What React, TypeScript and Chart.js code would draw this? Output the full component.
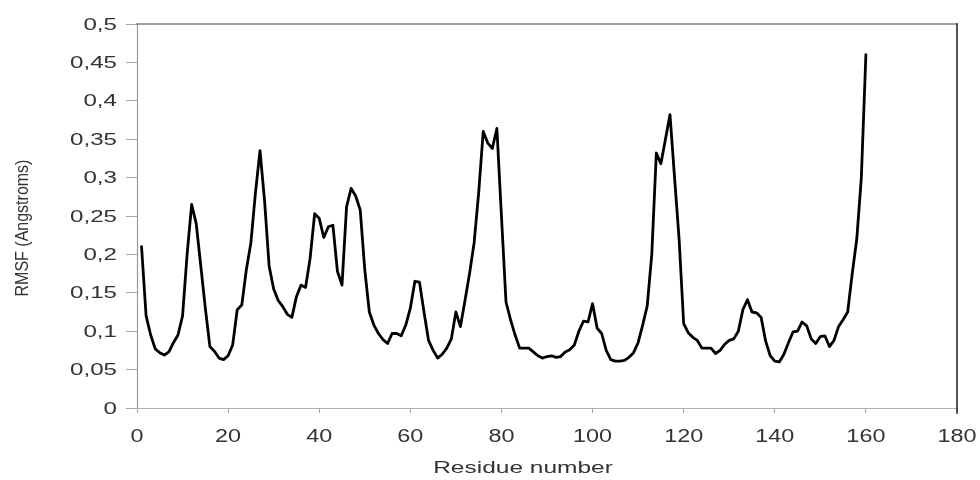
import React, { useEffect, useRef } from "react";
import { Chart, registerables } from "chart.js";

Chart.register(...registerables);

// RMSF per residue (residues 1..160)
const rmsf: number[] = [
  0.21, 0.12, 0.095, 0.077, 0.072, 0.069, 0.073, 0.085, 0.095, 0.12,
  0.2, 0.265, 0.24, 0.185, 0.13, 0.08, 0.074, 0.065, 0.063, 0.068,
  0.082, 0.128, 0.134, 0.18, 0.215, 0.28, 0.335, 0.27, 0.185, 0.155,
  0.14, 0.132, 0.122, 0.118, 0.145, 0.16, 0.157, 0.195, 0.253, 0.247,
  0.222, 0.236, 0.238, 0.178, 0.16, 0.262, 0.286, 0.276, 0.258, 0.18,
  0.125, 0.108, 0.097, 0.089, 0.084, 0.097, 0.097, 0.094, 0.108, 0.13,
  0.165, 0.164, 0.125, 0.088, 0.075, 0.065, 0.07, 0.078, 0.09, 0.125,
  0.106, 0.14, 0.175, 0.215, 0.28, 0.36, 0.345, 0.338, 0.364, 0.25,
  0.138, 0.115, 0.095, 0.078, 0.078, 0.078, 0.073, 0.068, 0.065, 0.067,
  0.068, 0.066, 0.067, 0.073, 0.076, 0.082, 0.1, 0.113, 0.112, 0.136,
  0.104, 0.097, 0.075, 0.063, 0.061, 0.061, 0.062, 0.066, 0.072, 0.085,
  0.108, 0.133, 0.2, 0.332, 0.318, 0.35, 0.382, 0.3, 0.22, 0.11,
  0.098, 0.092, 0.088, 0.078, 0.078, 0.078, 0.071, 0.075, 0.083, 0.088,
  0.09, 0.1, 0.128, 0.141, 0.125, 0.124, 0.118, 0.087, 0.068, 0.061,
  0.06, 0.07, 0.085, 0.099, 0.1, 0.112, 0.107, 0.09, 0.084, 0.093,
  0.094, 0.08, 0.088, 0.106, 0.115, 0.125, 0.175, 0.22, 0.3, 0.46,
];
const residues: number[] = rmsf.map((_, i) => i + 1);

const xTickValues: number[] = [0, 20, 40, 60, 80, 100, 120, 140, 160, 180];
const yTickValues: number[] = [0, 0.05, 0.1, 0.15, 0.2, 0.25, 0.3, 0.35, 0.4, 0.45, 0.5];
const yTickLabels: string[] = ["0", "0,05", "0,1", "0,15", "0,2", "0,25", "0,3", "0,35", "0,4", "0,45", "0,5"];
const xTitle = "Residue number";
const yTitle = "RMSF (Angstroms)";

const FONT = '"Liberation Sans", Arial, sans-serif';

const textPlugin = {
  id: "stretchedText",
  afterDraw(chart: any) {
    const ctx = chart.ctx as CanvasRenderingContext2D;
    const xs = chart.scales.x;
    const ys = chart.scales.y;
    const area = chart.chartArea;

    // frame
    ctx.save();
    ctx.lineCap = "square";
    ctx.strokeStyle = "#9a9a9a";
    ctx.lineWidth = 1.2;
    ctx.beginPath();
    ctx.moveTo(area.left + 0.5, area.bottom);
    ctx.lineTo(area.left + 0.5, area.top);
    ctx.stroke();
    ctx.strokeStyle = "#b0b0b0";
    ctx.beginPath();
    ctx.moveTo(area.left, area.bottom + 0.5);
    ctx.lineTo(area.right, area.bottom + 0.5);
    ctx.stroke();
    ctx.strokeStyle = "#808080";
    ctx.lineWidth = 1.6;
    ctx.beginPath();
    ctx.moveTo(area.left, area.top);
    ctx.lineTo(area.right, area.top);
    ctx.stroke();
    ctx.strokeStyle = "#2a2a2a";
    ctx.lineWidth = 1.6;
    ctx.beginPath();
    ctx.moveTo(area.right, area.top);
    ctx.lineTo(area.right, area.bottom + 5);
    ctx.stroke();
    ctx.restore();

    ctx.save();
    ctx.fillStyle = "#333333";
    // y tick labels
    ctx.font = `17px ${FONT}`;
    ctx.textAlign = "right";
    ctx.textBaseline = "middle";
    yTickValues.forEach((v, i) => {
      const py = ys.getPixelForValue(v);
      ctx.save();
      ctx.translate(117, py + 1);
      ctx.scale(1.42, 1);
      ctx.fillText(yTickLabels[i], 0, 0);
      ctx.restore();
    });
    // x tick labels
    ctx.font = `18px ${FONT}`;
    ctx.textAlign = "center";
    xTickValues.forEach((v) => {
      const px = xs.getPixelForValue(v);
      ctx.save();
      ctx.translate(px, 437);
      ctx.scale(1.3, 1);
      ctx.fillText(String(v), 0, 0);
      ctx.restore();
    });
    // x title
    ctx.font = `17px ${FONT}`;
    ctx.save();
    ctx.translate(523, 468);
    ctx.scale(1.44, 1);
    ctx.fillText(xTitle, 0, 0);
    ctx.restore();
    // y title
    ctx.font = `16px ${FONT}`;
    ctx.save();
    ctx.translate(23, 228);
    ctx.scale(1.15, 1);
    ctx.rotate(-Math.PI / 2);
    ctx.fillText(yTitle, 0, 0);
    ctx.restore();
    ctx.restore();
  },
};

export default function App() {
  const ref = useRef<HTMLCanvasElement | null>(null);

  useEffect(() => {
    if (!ref.current) return;
    const chart = new Chart(ref.current, {
      type: "line",
      data: {
        datasets: [
          {
            label: "RMSF",
            data: residues.map((r, i) => ({ x: r, y: rmsf[i] })),
            borderColor: "#000000",
            borderWidth: 2.8,
            borderJoinStyle: "round",
            borderCapStyle: "round",
            pointRadius: 0,
            tension: 0,
            fill: false,
          },
        ],
      },
      options: {
        animation: false,
        responsive: true,
        maintainAspectRatio: false,
        layout: { padding: { top: 24, right: 23, left: 0, bottom: 0 } },
        plugins: { legend: { display: false }, tooltip: { enabled: false } },
        scales: {
          x: {
            type: "linear",
            min: 0,
            max: 180,
            afterBuildTicks: (s: any) => {
              s.ticks = xTickValues.map((v) => ({ value: v }));
            },
            ticks: { display: false },
            border: { display: false },
            grid: { drawOnChartArea: false, drawTicks: true, tickLength: 5, color: "#a8a8a8" },
            afterFit: (s: any) => {
              s.height = 72;
            },
          },
          y: {
            type: "linear",
            min: 0,
            max: 0.5,
            afterBuildTicks: (s: any) => {
              s.ticks = yTickValues.map((v) => ({ value: v }));
            },
            ticks: { display: false },
            border: { display: false },
            grid: { drawOnChartArea: false, drawTicks: true, tickLength: 11, color: "#a8a8a8" },
            afterFit: (s: any) => {
              s.width = 137;
            },
          },
        },
      },
      plugins: [textPlugin],
    });
    return () => chart.destroy();
  }, []);

  return (
    <div style={{ position: "absolute", left: 0, top: 0, width: 980, height: 480, background: "#fff" }}>
      <canvas ref={ref} />
    </div>
  );
}
